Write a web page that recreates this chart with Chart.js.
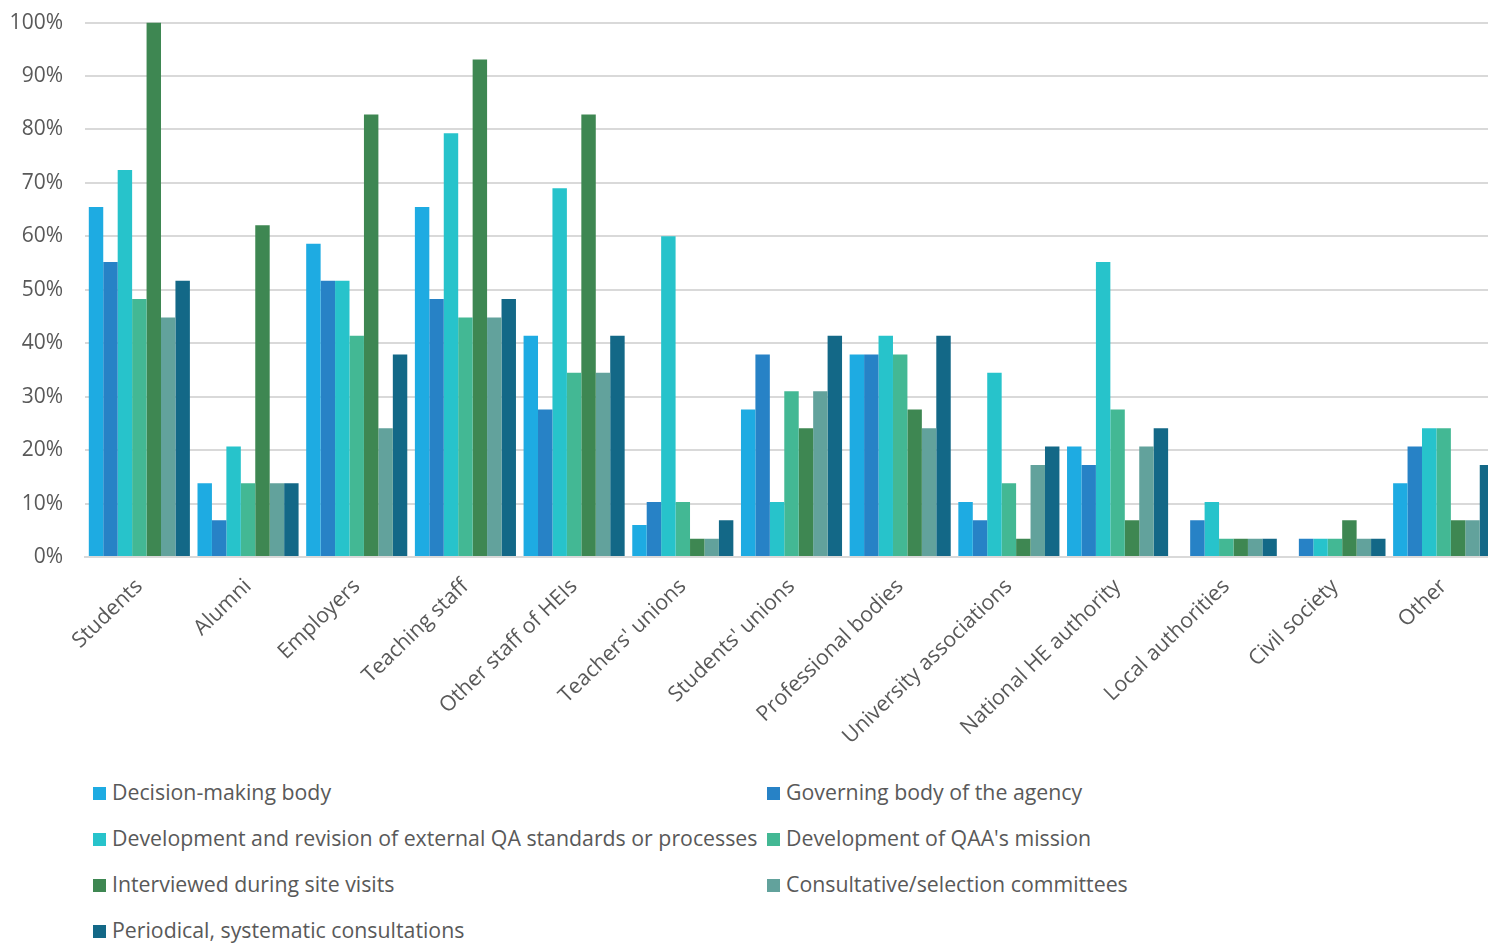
<!DOCTYPE html>
<html>
<head>
<meta charset="utf-8">
<script src="https://cdn.jsdelivr.net/npm/chart.js@4.4.1/dist/chart.umd.min.js"></script>
<style>
  html, body { margin: 0; padding: 0; background: #fff; overflow: hidden; }
  #wrap { position: relative; width: 1500px; height: 944px; overflow: hidden; }
  #chartBox { position: absolute; left: 0; top: -12px; width: 1500px; height: 769px; }
  .leg { position: absolute; font-family: "Open Sans", sans-serif; font-size: 21.3px; color: #595959; white-space: nowrap; line-height: 24px; }
  .leg span.sw { position: absolute; left: 0; top: 6px; width: 13px; height: 13px; }
  .leg span.tx { position: absolute; left: 19px; top: -1px; }
</style>
</head>
<body>
<div id="wrap">
  <div id="chartBox"><canvas id="c" width="1500" height="769"></canvas></div>
  <div id="legend"></div>
</div>
<script>
const categories = ["Students", "Alumni", "Employers", "Teaching staff", "Other staff of HEIs", "Teachers' unions", "Students' unions", "Professional bodies", "University associations", "National HE authority", "Local authorities", "Civil society", "Other"];

const seriesNames = ["Decision-making body", "Governing body of the agency", "Development and revision of external QA standards or processes", "Development of QAA's mission", "Interviewed during site visits", "Consultative/selection committees", "Periodical, systematic consultations"];

const decisionMaking   = [65.5, 13.8, 58.6, 65.5, 41.4,  6.0, 27.6, 37.9, 10.3, 20.7,  0.0,  0.0, 13.8];
const governingBody    = [55.2,  6.9, 51.7, 48.3, 27.6, 10.3, 37.9, 37.9,  6.9, 17.2,  6.9,  3.4, 20.7];
const devRevision      = [72.4, 20.7, 51.7, 79.3, 69.0, 60.0, 10.3, 41.4, 34.5, 55.2, 10.3,  3.4, 24.1];
const devMission       = [48.3, 13.8, 41.4, 44.8, 34.5, 10.3, 31.0, 37.9, 13.8, 27.6,  3.4,  3.4, 24.1];
const interviewed      = [100.0, 62.1, 82.8, 93.1, 82.8, 3.4, 24.1, 27.6,  3.4,  6.9,  3.4,  6.9,  6.9];
const consultative     = [44.8, 13.8, 24.1, 44.8, 34.5,  3.4, 31.0, 24.1, 17.2, 20.7,  3.4,  3.4,  6.9];
const periodical       = [51.7, 13.8, 37.9, 48.3, 41.4,  6.9, 41.4, 41.4, 20.7, 24.1,  3.4,  3.4, 17.2];

const yTicks = [0, 10, 20, 30, 40, 50, 60, 70, 80, 90, 100];

const colors = ["#1EABE2", "#2782C6", "#27C3CB", "#43B894", "#3E8752", "#62A29C", "#136887"];
const seriesValues = [decisionMaking, governingBody, devRevision, devMission, interviewed, consultative, periodical];

const datasets = seriesNames.map((n, i) => ({
  label: n,
  data: seriesValues[i],
  backgroundColor: colors[i],
  borderWidth: 0,
  barPercentage: 1.0,
  categoryPercentage: 0.93
}));

const FONT = '"Open Sans", sans-serif';

new Chart(document.getElementById('c'), {
  type: 'bar',
  data: { labels: categories, datasets },
  options: {
    responsive: false,
    animation: false,
    devicePixelRatio: 1,
    layout: { padding: { top: 11, right: 2, left: 0, bottom: 0 } },
    plugins: { legend: { display: false }, tooltip: { enabled: false } },
    scales: {
      x: {
        grid: { display: false, drawTicks: false },
        border: { display: true, color: '#d9d9d9', width: 2 },
        ticks: {
          color: '#595959',
          font: { family: FONT, size: 21.3 },
          minRotation: 44, maxRotation: 44,
          autoSkip: false,
          padding: 17
        },
        afterFit: (s) => { s.height = 200; }
      },
      y: {
        min: 0, max: 100,
        afterBuildTicks: (s) => { s.ticks = yTicks.map(v => ({ value: v })); },
        grid: { color: '#d9d9d9', lineWidth: 2, drawTicks: false },
        border: { display: false },
        ticks: {
          color: '#595959',
          font: { family: FONT, size: 21 },
          padding: 22,
          callback: (v) => v + '%'
        },
        afterFit: (s) => { s.width = 85; }
      }
    }
  }
});

// HTML legend in two columns
const legend = document.getElementById('legend');
const colX = [93, 767];
const rowY = [781, 827, 873, 919];
seriesNames.forEach((n, i) => {
  const d = document.createElement('div');
  d.className = 'leg';
  d.style.left = colX[i % 2] + 'px';
  d.style.top = rowY[Math.floor(i / 2)] + 'px';
  d.innerHTML = '<span class="sw" style="background:' + colors[i] + '"></span><span class="tx"></span>';
  d.querySelector('.tx').textContent = n;
  legend.appendChild(d);
});
</script>
</body>
</html>
